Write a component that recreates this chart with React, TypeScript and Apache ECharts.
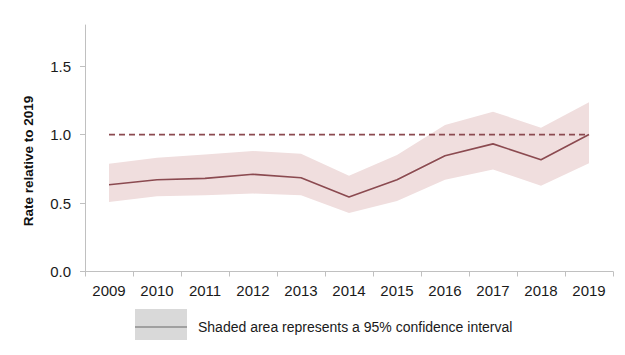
import React, { useEffect, useRef } from "react";
import * as echarts from "echarts";

const years = ["2009", "2010", "2011", "2012", "2013", "2014", "2015", "2016", "2017", "2018", "2019"];
const rate = [0.634, 0.67, 0.68, 0.71, 0.685, 0.544, 0.67, 0.845, 0.932, 0.816, 1.0];
const upper = [0.787, 0.83, 0.855, 0.88, 0.86, 0.7, 0.85, 1.07, 1.167, 1.05, 1.235];
const lower = [0.508, 0.55, 0.556, 0.569, 0.556, 0.428, 0.515, 0.67, 0.745, 0.627, 0.79];
const reference = [1, 1, 1, 1, 1, 1, 1, 1, 1, 1, 1];
const yTicks = [0, 0.5, 1.0, 1.5];
const yTitle = "Rate relative to 2019";
const legendText = "Shaded area represents a 95% confidence interval";

const LINE = "#8b4a50";
const BAND = "#f0dede";
const FONT = "Liberation Sans, Arial, sans-serif";

export default function App() {
  const ref = useRef<HTMLDivElement>(null);
  useEffect(() => {
    if (!ref.current) return;
    const chart = echarts.init(ref.current, undefined, { renderer: "svg" });
    const bandWidth = upper.map((u, i) => +(u - lower[i]).toFixed(3));
    chart.setOption({
      animation: false,
      textStyle: { fontFamily: FONT },
      grid: { left: 85, right: 12, top: 25, bottom: 83.5, containLabel: false },
      xAxis: {
        type: "category",
        data: years,
        boundaryGap: true,
        axisLine: { lineStyle: { color: "#c0c0c0", width: 1 } },
        axisTick: { show: true, length: 5, lineStyle: { color: "#c0c0c0" } },
        axisLabel: { color: "#1a1a1a", fontSize: 15, margin: 11, fontFamily: FONT },
        splitLine: { show: false },
      },
      yAxis: {
        type: "value",
        min: 0,
        max: 1.8,
        interval: 0.5,
        axisLine: { show: true, lineStyle: { color: "#c0c0c0", width: 1 } },
        axisTick: { show: true, length: 5, lineStyle: { color: "#c0c0c0" }, customValues: yTicks },
        axisLabel: {
          color: "#1a1a1a",
          fontSize: 15,
          margin: 14,
          fontFamily: FONT,
          customValues: yTicks,
          formatter: (v: number) => v.toFixed(1),
        },
        splitLine: { show: false },
      },
      series: [
        {
          type: "line",
          data: lower,
          stack: "ci",
          symbol: "none",
          lineStyle: { opacity: 0 },
          silent: true,
        },
        {
          type: "line",
          data: bandWidth,
          stack: "ci",
          symbol: "none",
          lineStyle: { opacity: 0 },
          areaStyle: { color: BAND, opacity: 1 },
          silent: true,
        },
        {
          type: "line",
          data: rate,
          symbol: "none",
          lineStyle: { color: LINE, width: 1.6 },
          z: 5,
        },
        {
          type: "line",
          data: reference,
          symbol: "none",
          lineStyle: { color: LINE, width: 1.8, type: [6, 4] },
          z: 4,
        },
      ],
      graphic: [
        {
          type: "text",
          x: 28,
          y: 161,
          rotation: Math.PI / 2,
          style: {
            text: yTitle,
            fontSize: 13.5,
            fontWeight: "bold",
            fontFamily: FONT,
            fill: "#111",
            align: "center",
            verticalAlign: "middle",
          },
        },
        {
          type: "rect",
          shape: { x: 135, y: 309, width: 52, height: 31 },
          style: { fill: "#d9d9d9" },
        },
        {
          type: "line",
          shape: { x1: 135, y1: 327, x2: 187, y2: 327 },
          style: { stroke: "#8c8c8c", lineWidth: 1.5 },
        },
        {
          type: "text",
          x: 198,
          y: 327,
          style: {
            text: legendText,
            fontSize: 14,
            fontFamily: FONT,
            fill: "#1a1a1a",
            verticalAlign: "middle",
          },
        },
      ],
    });
    return () => chart.dispose();
  }, []);
  return <div ref={ref} style={{ width: 625, height: 355, position: "absolute", left: 0, top: 0 }} />;
}
